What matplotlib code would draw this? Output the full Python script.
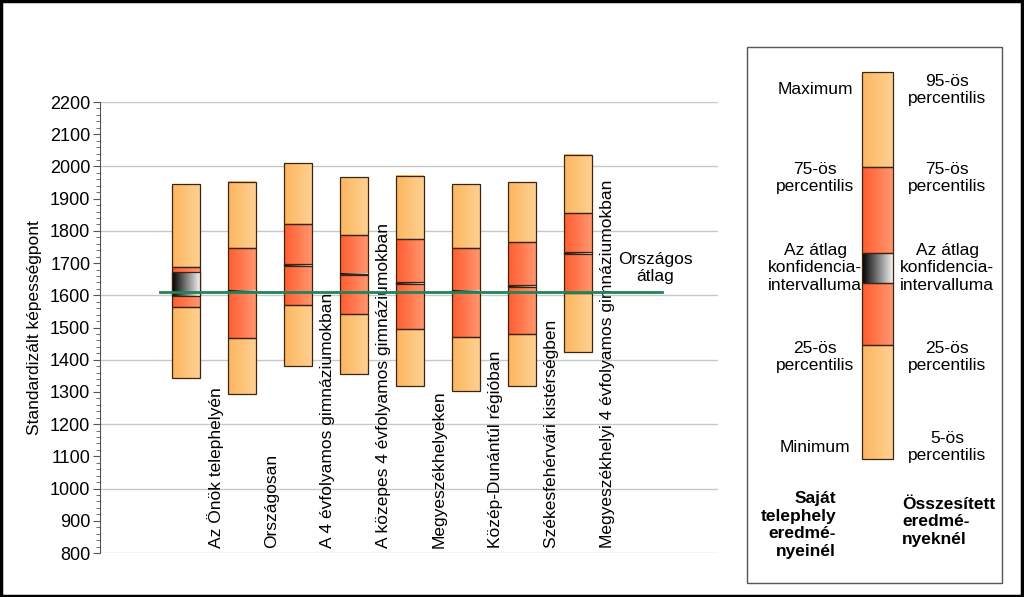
import numpy as np
import matplotlib
matplotlib.use('Agg')
import matplotlib.pyplot as plt
from matplotlib.patches import Rectangle

plt.rcParams['font.family'] = ['Liberation Sans', 'DejaVu Sans']

#data
cats = ['Az Önök telephelyén', 'Országosan', 'A 4 évfolyamos gimnáziumokban',
        'A közepes 4 évfolyamos gimnáziumokban', 'Megyeszékhelyeken',
        'Közép-Dunántúl régióban', 'Székesfehérvári kistérségben',
        'Megyeszékhelyi 4 évfolyamos gimnáziumokban']
mins = [1343, 1293, 1380, 1356, 1318, 1303, 1318, 1424]
p25 = [1563, 1466, 1569, 1541, 1494, 1470, 1479, 1608]
ci_lo = [1599, 1609, 1692, 1662, 1635, 1609, 1626, 1728]
ci_hi = [1673, 1614, 1697, 1667, 1640, 1614, 1632, 1733]
p75 = [1689, 1746, 1821, 1786, 1774, 1746, 1766, 1854]
maxs = [1945, 1953, 2010, 1966, 1971, 1944, 1951, 2035]
orszagos_atlag = 1611

light_l, light_r = (252, 182, 96), (255, 208, 145)
red_l, red_r = (255, 92, 48), (255, 150, 110)
ci_l, ci_r = (0, 0, 0), (240, 240, 240)
edge = '#3a2510'


def grad_rect(ax, x0, x1, y0, y1, cl, cr, z=2):
    g = np.linspace(0, 1, 60)
    cols = np.array(cl)[None, :] * (1 - g)[:, None] + np.array(cr)[None, :] * g[:, None]
    ax.imshow(cols[None, :, :] / 255, extent=(x0, x1, y0, y1), aspect='auto',
              interpolation='bilinear', zorder=z)
    ax.add_patch(Rectangle((x0, y0), x1 - x0, y1 - y0, fill=False, ec=edge, lw=0.9, zorder=z + 0.5))


fig = plt.figure(figsize=(10.24, 5.97), dpi=100)
ax = fig.add_axes([100 / 1024, 1 - 553 / 597, 618 / 1024, 451 / 597])

w = 0.5
for i in range(len(cats)):
    grad_rect(ax, i - w / 2, i + w / 2, mins[i], p25[i], light_l, light_r)
    grad_rect(ax, i - w / 2, i + w / 2, p25[i], p75[i], red_l, red_r)
    grad_rect(ax, i - w / 2, i + w / 2, p75[i], maxs[i], light_l, light_r)
    grad_rect(ax, i - w / 2, i + w / 2, ci_lo[i], ci_hi[i], ci_l, ci_r, z=4)
    ax.text(i + 0.52, 815, cats[i], rotation=90, ha='left', va='center',
            rotation_mode='anchor', fontsize=12.5, zorder=6)

ax.plot([-0.46, 8.5], [orszagos_atlag, orszagos_atlag], color='#23835a', lw=2, zorder=7)
ax.text(8.38, 1685, 'Országos\nátlag', ha='center', va='center', fontsize=12.5)

ax.set_xlim(-1.536, 9.5)
ax.set_ylim(800, 2200)
ax.set_yticks(np.arange(800, 2201, 100))
ax.set_yticks(np.arange(800, 2201, 20), minor=True)
ax.set_xticks([])
for v in range(800, 2201, 200):
    ax.axhline(v, color='#c8c8c8', lw=1, zorder=1)
for s in ['top', 'right', 'bottom']:
    ax.spines[s].set_visible(False)
ax.spines['left'].set_color('#555555')
ax.tick_params(axis='y', which='major', length=5, color='#555555', labelsize=13, pad=2)
ax.tick_params(axis='y', which='minor', length=3, color='#555555')
ax.set_ylabel('Standardizált képességpont', fontsize=12.5, labelpad=6)

#legend panel in pixel coords
lg = fig.add_axes([0, 0, 1, 1], facecolor='none')
lg.axis('off')
lg.add_patch(Rectangle((747, 47), 255, 536, fill=False, ec='#555555', lw=1))
grad_rect(lg, 862, 893, 345, 459, light_l, light_r)
grad_rect(lg, 862, 893, 283, 345, red_l, red_r)
grad_rect(lg, 862, 893, 253, 283, ci_l, ci_r)
grad_rect(lg, 862, 893, 167, 253, red_l, red_r)
grad_rect(lg, 862, 893, 72, 167, light_l, light_r)
lg.set_xlim(0, 1024)
lg.set_ylim(597, 0)

left_txt = ['Maximum', '75-ös\npercentilis', 'Az átlag\nkonfidencia-\nintervalluma',
            '25-ös\npercentilis', 'Minimum']
right_txt = ['95-ös\npercentilis', '75-ös\npercentilis', 'Az átlag\nkonfidencia-\nintervalluma',
             '25-ös\npercentilis', '5-ös\npercentilis']
ys = [90, 178, 268, 357, 447]
for t, y in zip(left_txt, ys):
    lg.text(815, y, t, ha='center', va='center', fontsize=12.5, linespacing=1.2)
for t, y in zip(right_txt, ys):
    lg.text(947, y, t, ha='center', va='center', fontsize=12.5, linespacing=1.2)
lg.text(836, 525, 'Saját\ntelephely\neredmé-\nnyeinél', ha='right', va='center',
        fontsize=12.5, fontweight='bold', linespacing=1.2)
lg.text(902, 522, 'Összesített\neredmé-\nnyeknél', ha='left', va='center',
        fontsize=12.5, fontweight='bold', linespacing=1.2)

#outer frame
fig.patches.append(Rectangle((0.001, 0.002), 0.997, 0.996, transform=fig.transFigure,
                             fill=False, ec='black', lw=2.5))

plt.savefig('out.png', dpi=100)
